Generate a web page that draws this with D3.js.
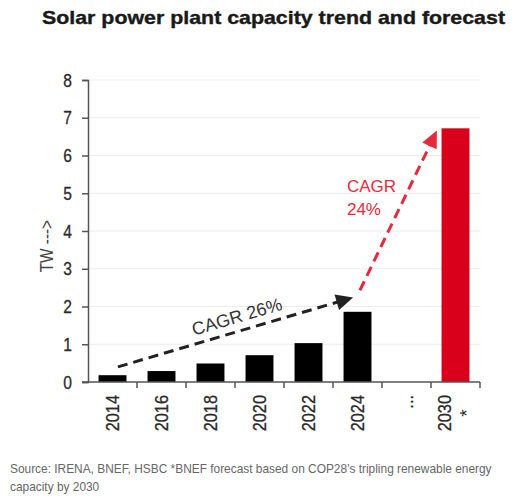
<!DOCTYPE html>
<html><head><meta charset="utf-8">
<script src="https://cdn.jsdelivr.net/npm/d3@7"></script>
<style>
body{margin:0;background:#fff;}
svg{display:block;}
</style></head>
<body>
<svg id="chart" width="518" height="501"></svg>
<script>
const title = "Solar power plant capacity trend and forecast";
const yLabel = "TW --->";
const categories = ["2014","2016","2018","2020","2022","2024","...","2030"];
const values = [0.18, 0.29, 0.49, 0.71, 1.03, 1.86, null, 6.72];
const forecastCategory = "2030";
const footnoteMark = "*";
const yTicks = [0,1,2,3,4,5,6,7,8];
const sourceLines = ["Source: IRENA, BNEF, HSBC *BNEF forecast based on COP28\u2019s tripling renewable energy", "capacity by 2030"];
// CAGR arrows: [category, offset within step, value]
const cagrArrows = [
  {label:["CAGR 26%"], color:"#222", from:["2014", 0.11, 0.40], to:["2024", -0.09, 2.24]},
  {label:["CAGR","24%"], color:"#e8283c", from:["2024", 0.05, 2.43], to:["2030", -0.38, 6.66]}
];

const svg = d3.select("#chart");
const W = 518, H = 501;
const m = {left:88, right:38, top:80, bottom:119};
const x = d3.scaleBand().domain(categories).range([m.left, W-m.right]).paddingInner(0.43).paddingOuter(0.215);
const y = d3.scaleLinear().domain([0,8]).range([H-m.bottom, m.top]);
const step = x.step();
const xs = (c, off) => x(c) + x.bandwidth()/2 + off*step;
const sans = "Liberation Sans, Arial, sans-serif";
function narrow(sel, f){
  sel.each(function(){
    const len = this.getComputedTextLength();
    d3.select(this).attr("textLength", len*f).attr("lengthAdjust","spacingAndGlyphs");
  });
}

// title
svg.append("text").attr("x", 42).attr("y", 24)
  .attr("font-family",sans).attr("font-weight","bold")
  .attr("font-size",19).attr("fill","#1a1a1a").attr("stroke","#1a1a1a").attr("stroke-width",0.4)
  .attr("textLength",463).attr("lengthAdjust","spacingAndGlyphs").text(title);

// gridlines
svg.append("g").selectAll("line").data(yTicks.filter(d=>d>0)).join("line")
  .attr("x1", m.left).attr("x2", W-m.right).attr("y1", d=>y(d)).attr("y2", d=>y(d))
  .attr("stroke","#ececec").attr("stroke-width",1);

// bars
svg.append("g").selectAll("rect").data(categories.map((c,i)=>({c, v:values[i]})).filter(d=>d.v!=null)).join("rect")
  .attr("x", d=>x(d.c)).attr("width", x.bandwidth())
  .attr("y", d=>y(d.v)).attr("height", d=>y(0)-y(d.v))
  .attr("fill", d=>d.c===forecastCategory ? "#d9001b" : "#000");

// y axis
const yAxis = svg.append("g").attr("transform",`translate(${m.left},0)`)
  .call(d3.axisLeft(y).tickValues(yTicks).tickSize(6).tickPadding(10).tickFormat(d3.format("d")));
yAxis.select(".domain").attr("stroke","#555").attr("stroke-width",1.5);
yAxis.selectAll(".tick line").attr("stroke","#555").attr("stroke-width",1.5);
yAxis.selectAll(".tick text").attr("font-family",sans)
  .attr("font-size",19).attr("fill","#2a2a2a").attr("stroke","#2a2a2a").attr("stroke-width",0.3);
narrow(yAxis.selectAll(".tick text"), 0.82);

// x axis line and boundary ticks
const bounds = categories.map(c=>x(c) - (step - x.bandwidth())/2).concat([W-m.right]);
const xg = svg.append("g");
xg.append("line").attr("x1", m.left-6).attr("x2", W-m.right).attr("y1", y(0)).attr("y2", y(0))
  .attr("stroke","#555").attr("stroke-width",1.5);
xg.selectAll("line.tk").data(bounds.slice(1)).join("line").attr("class","tk")
  .attr("x1", d=>d).attr("x2", d=>d).attr("y1", y(0)).attr("y2", y(0)+6)
  .attr("stroke","#555").attr("stroke-width",1.5);

// x labels
categories.forEach(c=>{
  const cx = x(c) + x.bandwidth()/2;
  const hasMark = c===forecastCategory;
  const lx = hasMark ? cx - 11 : cx;
  const t = svg.append("text").attr("transform",`translate(${lx},${y(0)+13}) rotate(-90)`)
    .attr("text-anchor","end").attr("dy","0.35em")
    .attr("font-family",sans).attr("font-size",19).attr("fill","#2a2a2a")
    .attr("stroke","#2a2a2a").attr("stroke-width",0.3).text(c);
  narrow(t, 0.86);
  if(hasMark){
    svg.append("text").attr("transform",`translate(${cx+17},${y(0)+31}) rotate(-90)`)
      .attr("text-anchor","middle")
      .attr("font-family",sans).attr("font-size",19).attr("fill","#2a2a2a").text(footnoteMark);
  }
});

// y label
const yl = svg.append("text").attr("transform",`translate(47,${y(3.6)}) rotate(-90)`)
  .attr("text-anchor","middle").attr("dy","0.35em")
  .attr("font-family",sans).attr("font-size",18).attr("fill","#444").text(yLabel);
narrow(yl, 0.85);

// arrows
cagrArrows.forEach((a,i)=>{
  const x1 = xs(a.from[0],a.from[1]), y1 = y(a.from[2]);
  const x2 = xs(a.to[0],a.to[1]), y2 = y(a.to[2]);
  const ang = Math.atan2(y2-y1, x2-x1);
  const sx2 = x2 - Math.cos(ang)*10, sy2 = y2 - Math.sin(ang)*10;
  svg.append("line").attr("x1",x1).attr("y1",y1).attr("x2",sx2).attr("y2",sy2)
    .attr("stroke",a.color).attr("stroke-width",3).attr("stroke-dasharray","10,6");
  const hl = 17, hw = 8;
  const bx = x2 - Math.cos(ang)*hl, by = y2 - Math.sin(ang)*hl;
  const px = -Math.sin(ang)*hw, py = Math.cos(ang)*hw;
  svg.append("path").attr("d",`M${x2},${y2}L${bx+px},${by+py}L${bx-px},${by-py}Z`).attr("fill",a.color);
});
// CAGR labels
{
  const a = cagrArrows[0];
  const x1 = xs(a.from[0],a.from[1]), y1 = y(a.from[2]);
  const x2 = xs(a.to[0],a.to[1]), y2 = y(a.to[2]);
  const ang = Math.atan2(y2-y1, x2-x1)*180/Math.PI;
  const mx = (x1+x2)/2 + 6, my = (y1+y2)/2;
  svg.append("text").attr("transform",`translate(${mx},${my}) rotate(${ang}) translate(0,-10)`)
    .attr("text-anchor","middle").attr("font-family",sans)
    .attr("font-size",18).attr("fill","#333").text(a.label[0]);
}
{
  const a = cagrArrows[1];
  const tx = x("2024") + 0.07*step;
  const t = svg.append("text").attr("font-family",sans)
    .attr("font-size",17).attr("fill",a.color);
  a.label.forEach((s,k)=>t.append("tspan").attr("x",tx).attr("y", y(5.04) + k*23.5).text(s));
}

// source
const src = svg.append("text").attr("font-family",sans)
  .attr("font-size",11.9).attr("fill","#666");
sourceLines.forEach((s,k)=>src.append("tspan").attr("x",10).attr("y",473+k*18).text(s));
</script>
</body></html>
